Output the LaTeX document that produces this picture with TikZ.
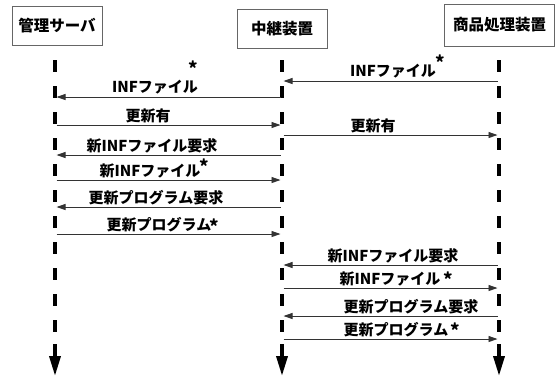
\documentclass[tikz,border=0pt]{standalone}
\usepackage{fontspec}
\setmainfont{Noto Sans CJK JP}
\usetikzlibrary{arrows.meta}
\begin{document}
\begin{tikzpicture}[x=1pt,y=-1pt,
  actor/.style={draw=black!60, line width=0.8pt, minimum height=39pt, inner sep=0pt, font=\bfseries\fontsize{15.5}{15.5}\selectfont},
  life/.style={line width=3.5pt, dash pattern=on 12pt off 14pt},
  lifeend/.style={line width=3.5pt, -{Triangle[width=11pt,length=20pt]}},
  msg/.style={draw=black!80, line width=0.9pt, shorten >=1.5pt, shorten <=1.5pt, -{Triangle[width=6pt,length=9pt]}},
  lbl/.style={font=\bfseries\fontsize{15}{15}\selectfont, inner sep=0pt, anchor=base},
  star/.style={font=\bfseries\fontsize{18}{18}\selectfont, inner sep=0pt}]
\useasboundingbox (0,0) rectangle (556,376);
% actors
\node[actor, minimum width=90pt] (a) at (57,26) {管理サーバ};
\node[actor, minimum width=90pt] (b) at (282,29) {中継装置};
\node[actor, minimum width=110pt, minimum height=42pt] (c) at (499.5,25) {商品処理装置};
% lifelines
\coordinate (L1) at (55,60);  \coordinate (L1e) at (55,344);  \coordinate (L1b) at (55,376);
\coordinate (L2) at (282,60); \coordinate (L2e) at (282,344); \coordinate (L2b) at (282,376);
\coordinate (L3) at (499,60); \coordinate (L3e) at (499,344); \coordinate (L3b) at (499,376);
\draw[life] (L1) -- (L1e); \draw[lifeend] (L1e) -- (L1b);
\draw[life] (L2) -- (L2e); \draw[lifeend] (L2e) -- (L2b);
\draw[life] (L3) -- (L3e); \draw[lifeend] (L3e) -- (L3b);
% messages
\draw[msg] (L2 |- 0,97) -- (L1 |- 0,97);
\node[lbl] (m1) at (155,92) {INFファイル};
\node[star] (s1) at (193,68) {*};
\draw[msg] (L3 |- 0,81) -- (L2 |- 0,81);
\node[lbl] (m2) at (393,76) {INFファイル};
\node[star] (s2) at (440,62) {*};
\draw[msg] (L1 |- 0,125) -- (L2 |- 0,125);
\node[lbl] (m3) at (148,121) {更新有};
\draw[msg] (L2 |- 0,135) -- (L3 |- 0,135);
\node[lbl] (m4) at (373,131) {更新有};
\draw[msg] (L2 |- 0,155) -- (L1 |- 0,155);
\node[lbl] (m5) at (152,151) {新INFファイル要求};
\draw[msg] (L1 |- 0,180) -- (L2 |- 0,180);
\node[lbl] (m6) at (150,176) {新INFファイル};
\node[star] (s6) at (204,166) {*};
\draw[msg] (L2 |- 0,207) -- (L1 |- 0,207);
\node[lbl] (m7) at (156,203) {更新プログラム要求};
\draw[msg] (L1 |- 0,234) -- (L2 |- 0,234);
\node[lbl] (m8) at (159,230) {更新プログラム};
\node[star] (s8) at (214,226) {*};
\draw[msg] (L3 |- 0,265) -- (L2 |- 0,265);
\node[lbl] (m9) at (393,261) {新INFファイル要求};
\draw[msg] (L2 |- 0,288) -- (L3 |- 0,288);
\node[lbl] (m10) at (390,284) {新INFファイル};
\node[star] (s10) at (448,279) {*};
\draw[msg] (L3 |- 0,316) -- (L2 |- 0,316);
\node[lbl] (m11) at (411,312) {更新プログラム要求};
\draw[msg] (L2 |- 0,339) -- (L3 |- 0,339);
\node[lbl] (m12) at (396,335) {更新プログラム};
\node[star] (s12) at (455,330) {*};
\end{tikzpicture}
\end{document}
